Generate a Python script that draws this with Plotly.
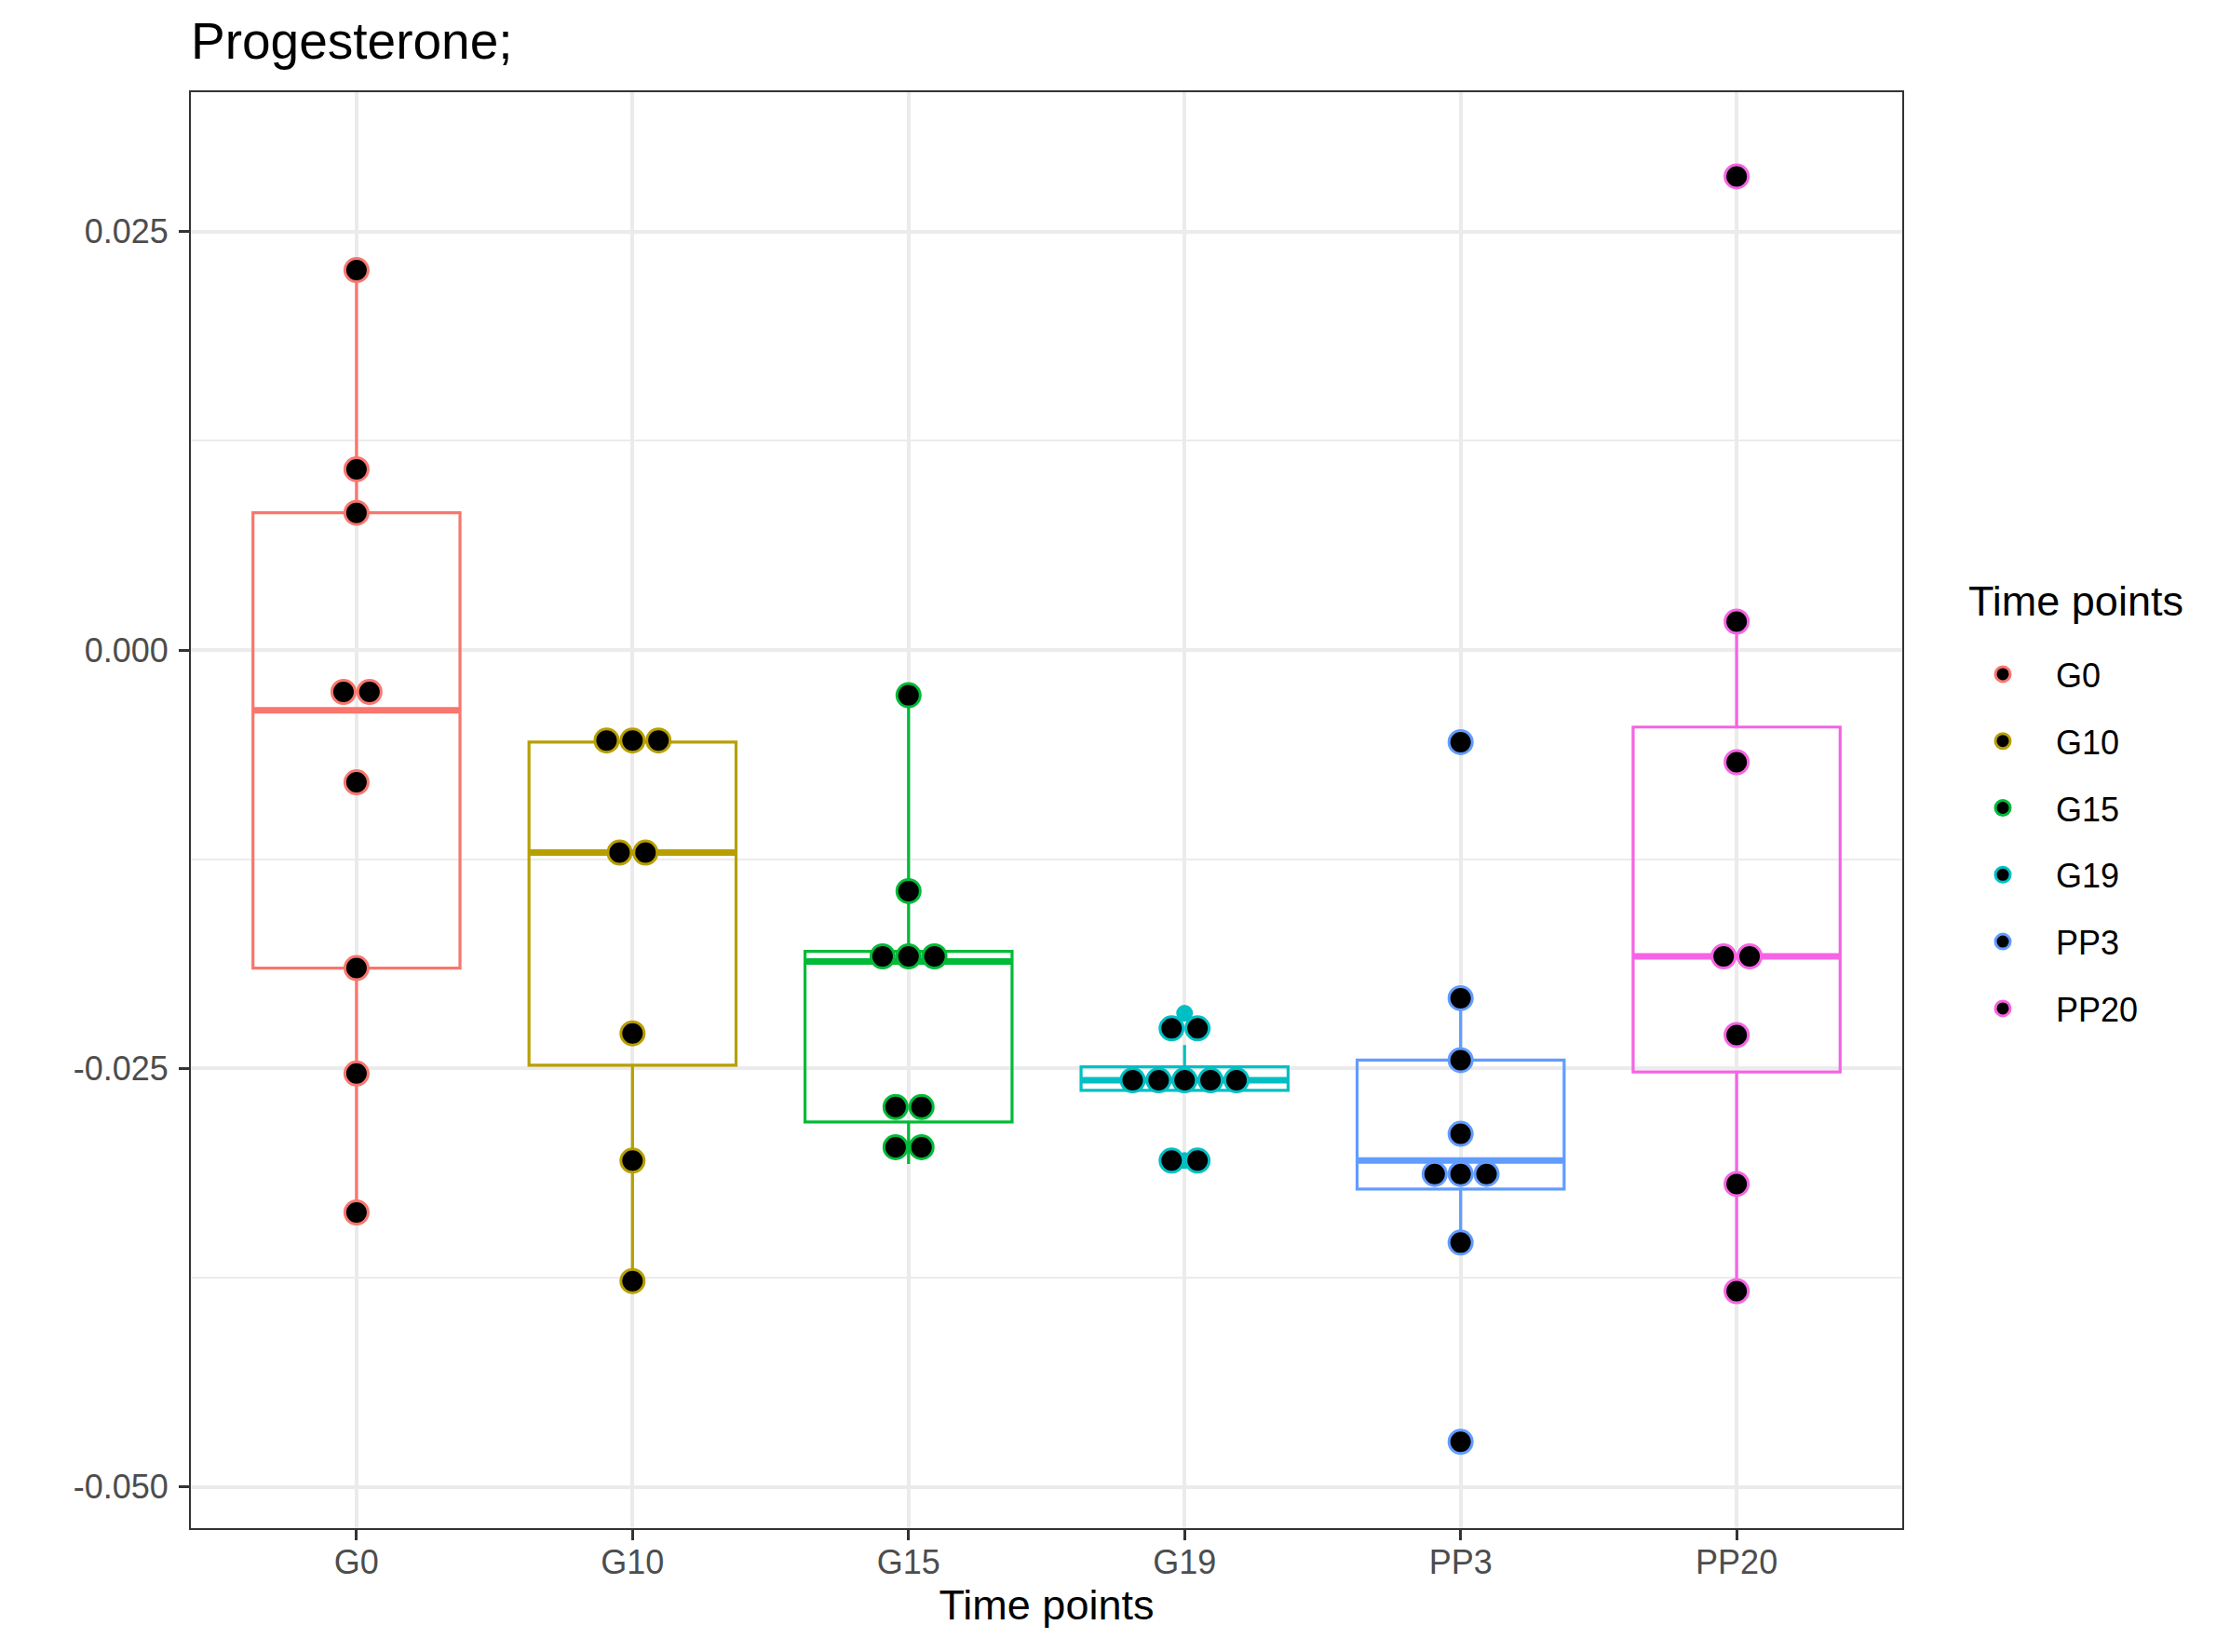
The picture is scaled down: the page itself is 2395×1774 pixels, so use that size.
import plotly.graph_objects as go

# ---------------- data ----------------
categories = ["G0", "G10", "G15", "G19", "PP3", "PP20"]
colors = ["#F8766D", "#B79F00", "#00BA38", "#00BFC4", "#619CFF", "#F564E3"]

g0_values = [0.0227, 0.0108, 0.0082, -0.0025, -0.0025, -0.0079, -0.0190, -0.0253, -0.0336]
g10_values = [-0.0054, -0.0054, -0.0054, -0.0121, -0.0121, -0.0229, -0.0305, -0.0377]
g15_values = [-0.0027, -0.0144, -0.0183, -0.0183, -0.0183, -0.0273, -0.0273, -0.0297, -0.0297]
g19_values = [-0.0226, -0.0226, -0.0257, -0.0257, -0.0257, -0.0257, -0.0257, -0.0305, -0.0305]
pp3_values = [-0.0055, -0.0208, -0.0245, -0.0289, -0.0313, -0.0313, -0.0313, -0.0354, -0.0473]
pp20_values = [0.0283, 0.0017, -0.0067, -0.0183, -0.0183, -0.0230, -0.0319, -0.0383]

q1 = [-0.0190, -0.0248, -0.0282, -0.0263, -0.0322, -0.0252]
median = [-0.0036, -0.0121, -0.0186, -0.0257, -0.0305, -0.0183]
q3 = [0.0082, -0.0055, -0.0180, -0.0249, -0.0245, -0.0046]
lowerfence = [-0.0336, -0.0377, -0.0307, -0.0263, -0.0354, -0.0383]
upperfence = [0.0227, -0.0055, -0.0027, -0.0236, -0.0208, 0.0017]

outliers = {
    "G19": [-0.0217, -0.0305],
    "PP3": [-0.0055, -0.0473],
    "PP20": [0.0283],
}

y_tickvals = [-0.050, -0.025, 0.000, 0.025]
y_ticktext = ["-0.050", "-0.025", "0.000", "0.025"]
y_minor_tickvals = [-0.0375, -0.0125, 0.0125]

group_values = [g0_values, g10_values, g15_values, g19_values, pp3_values, pp20_values]

# ---------------- figure ----------------
FONT = "Liberation Sans, Arial, sans-serif"
BOX_W = 0.75
DOT_STEP = 0.094
W, H = 2379, 1758  # page body has an 8px margin
ML, MR, MT, MB = 197, 344, 91, 125
PW, PH = W - ML - MR, H - MT - MB

fig = go.Figure()

for i, cat in enumerate(categories):
    pos = i + 1
    fig.add_trace(go.Box(
        x=[pos], q1=[q1[i]], median=[median[i]], q3=[q3[i]],
        lowerfence=[lowerfence[i]], upperfence=[upperfence[i]],
        width=BOX_W, whiskerwidth=0, boxpoints=False,
        line=dict(color=colors[i], width=3.2),
        fillcolor="rgba(255,255,255,0)",
        name=cat, legendgroup=cat, showlegend=False,
        hoverinfo="skip",
    ))

for i, cat in enumerate(categories):
    pos = i + 1
    fig.add_trace(go.Scatter(
        x=[pos - BOX_W / 2, pos + BOX_W / 2], y=[median[i], median[i]],
        mode="lines", line=dict(color=colors[i], width=7),
        showlegend=False, legendgroup=cat, hoverinfo="skip",
    ))
    if cat in outliers:
        fig.add_trace(go.Scatter(
            x=[pos] * len(outliers[cat]), y=outliers[cat], mode="markers",
            marker=dict(color=colors[i], size=18),
            showlegend=False, legendgroup=cat, hoverinfo="skip",
        ))

# dot plot (centered stacks of equal values)
for i, cat in enumerate(categories):
    pos = i + 1
    vals = group_values[i]
    xs, ys = [], []
    seen = []
    for v in vals:
        if v in seen:
            continue
        seen.append(v)
        n = vals.count(v)
        for k in range(n):
            xs.append(pos + (k - (n - 1) / 2) * DOT_STEP)
            ys.append(v)
    fig.add_trace(go.Scatter(
        x=xs, y=ys, mode="markers", name=cat, legendgroup=cat, showlegend=True,
        marker=dict(color="black", size=25, line=dict(color=colors[i], width=3)),
        hoverinfo="skip",
    ))

fig.update_layout(
    width=W, height=H,
    paper_bgcolor="white", plot_bgcolor="white",
    margin=dict(l=ML, r=MR, t=MT, b=MB),
    font=dict(family=FONT, color="black"),
    title=dict(text="Progesterone;", x=0, xref="paper", xanchor="left",
               y=1 - 36 / H, yref="container", yanchor="middle",
               font=dict(size=55, family=FONT, color="black")),
    legend=dict(
        font=dict(size=36, family=FONT, color="black"),
        x=(2086 - ML) / PW, xanchor="left", y=1 - (686 - MT) / PH, yanchor="top",
        tracegroupgap=22, itemwidth=104, bgcolor="rgba(0,0,0,0)",
    ),
    showlegend=True,
    annotations=[dict(
        text="Time points", xref="paper", yref="paper",
        x=(2104 - ML) / PW, xanchor="left",
        y=1 - (637 - MT) / PH, yanchor="middle",
        showarrow=False, font=dict(size=45, family=FONT, color="black"),
    )],
)

fig.update_xaxes(
    range=[0.4, 6.6], tickmode="array", tickvals=list(range(1, len(categories) + 1)),
    ticktext=categories, showgrid=True, gridcolor="#EBEBEB", gridwidth=3.5,
    zeroline=False, showline=True, mirror=True, linecolor="#333333", linewidth=2,
    ticks="outside", ticklen=11, tickwidth=3, tickcolor="#333333",
    ticklabelstandoff=-7,
    tickfont=dict(size=36, family=FONT, color="#4D4D4D"),
    title=dict(text="Time points", font=dict(size=45, family=FONT, color="black"), standoff=3),
)
fig.update_yaxes(
    range=[-0.05246, 0.03333], tickmode="array", tickvals=y_tickvals, ticktext=y_ticktext,
    showgrid=True, gridcolor="#EBEBEB", gridwidth=3.5,
    minor=dict(tickmode="array", tickvals=y_minor_tickvals, showgrid=True,
               gridcolor="#EBEBEB", gridwidth=1.8, ticks=""),
    zeroline=False, showline=True, mirror=True, linecolor="#333333", linewidth=2,
    ticks="outside", ticklen=11, tickwidth=3, tickcolor="#333333",
    ticklabelstandoff=4,
    tickfont=dict(size=36, family=FONT, color="#4D4D4D"),
)

fig.write_html("out.html")
